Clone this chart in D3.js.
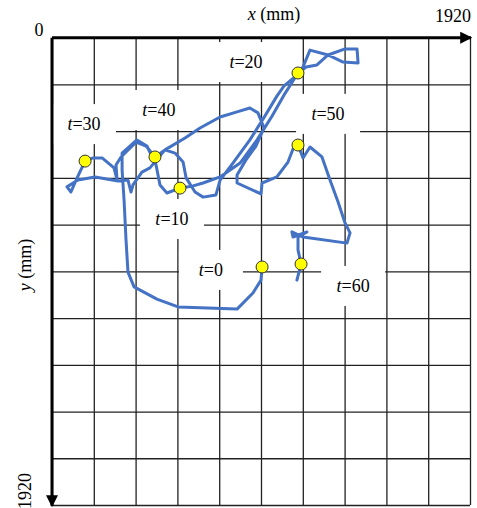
<!DOCTYPE html>
<html><head><meta charset="utf-8">
<script src="https://cdn.jsdelivr.net/npm/d3@7"></script>
<style>
body { margin: 0; background: white; }
text { font-family: "Liberation Serif", "Times New Roman", serif; fill: black; }
</style>
</head>
<body>
<script>
// track of the walker, mm (x to the right, y downwards)
var trackX = [965,960,923,850,579,482,377,349,340,331,322,322,390,436,478,496,528,588,
  648,694,772,864,942,1011,1066,1098,1130,
  1153,1185,1268,1346,1401,1406,1337,1268,1217,1167,1121,1066,1033,978,909,831,772,753,694,657,616,602,565,519,450,413,372,363,349,303,198,119,69,87,101,124,152,
  188,230,285,299,294,317,386,432,473,
  519,611,680,772,850,909,946,974,937,891,850,850,960,965,1033,1084,1107,1130,
  1153,1185,1240,1277,1314,1346,1369,1355,1153,1102,1107,1171,1130,1130,1144,1125];
var trackY = [942,996,1049,1115,1106,1074,1024,963,831,667,544,474,420,445,523,605,638,618,
  609,597,572,515,420,322,235,190,145,
  120,51,71,46,46,104,100,71,112,120,157,198,240,322,420,515,585,646,655,634,576,511,474,461,535,552,605,634,585,589,572,585,613,634,605,560,507,
  494,494,535,585,523,490,429,445,490,
  461,412,371,326,305,289,309,371,445,502,564,597,642,597,572,511,457,441,
  494,449,490,585,675,761,802,844,819,798,819,798,819,872,930,996];

// sampled moments
var markT = [0,10,20,30,40,50,60];
var markX = [965,588,1130,152,473,1130,1144];
var markY = [942,618,145,507,490,441,930];

// where the t= labels sit, mm
var labelX = [730,551,891,147,491,1268,1383];
var labelY = [954,745,100,355,297,313,1020];

var W = 477, H = 508;
var svg = d3.select("body").append("svg").attr("width", W).attr("height", H);

var x = d3.scaleLinear().domain([0,1920]).range([52,470]);
var y = d3.scaleLinear().domain([0,1920]).range([37.7,505]);
var ticks = d3.range(0,1921,192);

// grid
svg.append("g").attr("transform","translate(0,505)")
  .call(d3.axisBottom(x).tickValues(ticks).tickSize(-(505-37.7)).tickFormat(""))
  .call(function(g){ g.select(".domain").remove(); g.selectAll("line").attr("stroke","#222").attr("stroke-width",1.3); });
svg.append("g").attr("transform","translate(470,0)")
  .call(d3.axisLeft(y).tickValues(ticks).tickSize(470-52).tickFormat(""))
  .call(function(g){ g.select(".domain").remove(); g.selectAll("line").attr("stroke","#222").attr("stroke-width",1.3); });

// white boxes behind the labels
svg.selectAll("rect.lb").data(markT).enter().append("rect")
  .attr("x", function(d,i){ return x(labelX[i]) - 32; })
  .attr("y", function(d,i){ return y(labelY[i]) - 20; })
  .attr("width", 64).attr("height", 40)
  .attr("fill","white");

// axes with arrows
var defs = svg.append("defs");
defs.append("marker").attr("id","arr").attr("viewBox","0 0 10 10")
  .attr("refX",9).attr("refY",5).attr("markerWidth",4).attr("markerHeight",4)
  .attr("markerUnits","strokeWidth").attr("orient","auto")
  .append("path").attr("d","M0,0L10,5L0,10z").attr("fill","black");
svg.append("line").attr("x1",x(0)).attr("y1",y(0)).attr("x2",x(1920)+1).attr("y2",y(0))
  .attr("stroke","black").attr("stroke-width",3).attr("marker-end","url(#arr)");
svg.append("line").attr("x1",x(0)).attr("y1",y(0)).attr("x2",x(0)).attr("y2",y(1920)+1)
  .attr("stroke","black").attr("stroke-width",3).attr("marker-end","url(#arr)");

// track
var line = d3.line().x(function(d){ return x(d[0]); }).y(function(d){ return y(d[1]); });
svg.append("path").datum(d3.zip(trackX, trackY)).attr("d", line)
  .attr("fill","none").attr("stroke","#4472C4").attr("stroke-width",3)
  .attr("stroke-linejoin","round").attr("stroke-linecap","round");

svg.selectAll("circle").data(markT).enter().append("circle")
  .attr("cx", function(d,i){ return x(markX[i]); })
  .attr("cy", function(d,i){ return y(markY[i]); })
  .attr("r", 6).attr("fill","#FFFF00").attr("stroke","#333").attr("stroke-width",1);

// labels
var lt = svg.selectAll("text.lt").data(markT).enter().append("text")
  .attr("x", function(d,i){ return x(labelX[i]); })
  .attr("y", function(d,i){ return y(labelY[i]); })
  .attr("dy","0.35em").attr("text-anchor","middle").attr("font-size",18);
lt.append("tspan").attr("font-style","italic").text("t");
lt.append("tspan").text(function(d){ return "=" + d; });

// axis texts
svg.append("text").attr("x",39).attr("y",36).attr("text-anchor","middle").attr("font-size",18).text("0");
svg.append("text").attr("x",471).attr("y",22).attr("text-anchor","end").attr("font-size",18).text("1920");
var xl = svg.append("text").attr("x",274).attr("y",20).attr("text-anchor","middle").attr("font-size",18);
xl.append("tspan").attr("font-style","italic").text("x");
xl.append("tspan").text(" (mm)");
var yl = svg.append("text").attr("transform","translate(31,265) rotate(-90)").attr("text-anchor","middle").attr("font-size",18);
yl.append("tspan").attr("font-style","italic").text("y");
yl.append("tspan").text(" (mm)");
svg.append("text").attr("transform","translate(31,491) rotate(-90)").attr("text-anchor","middle").attr("font-size",18).text("1920");
</script>
</body></html>
